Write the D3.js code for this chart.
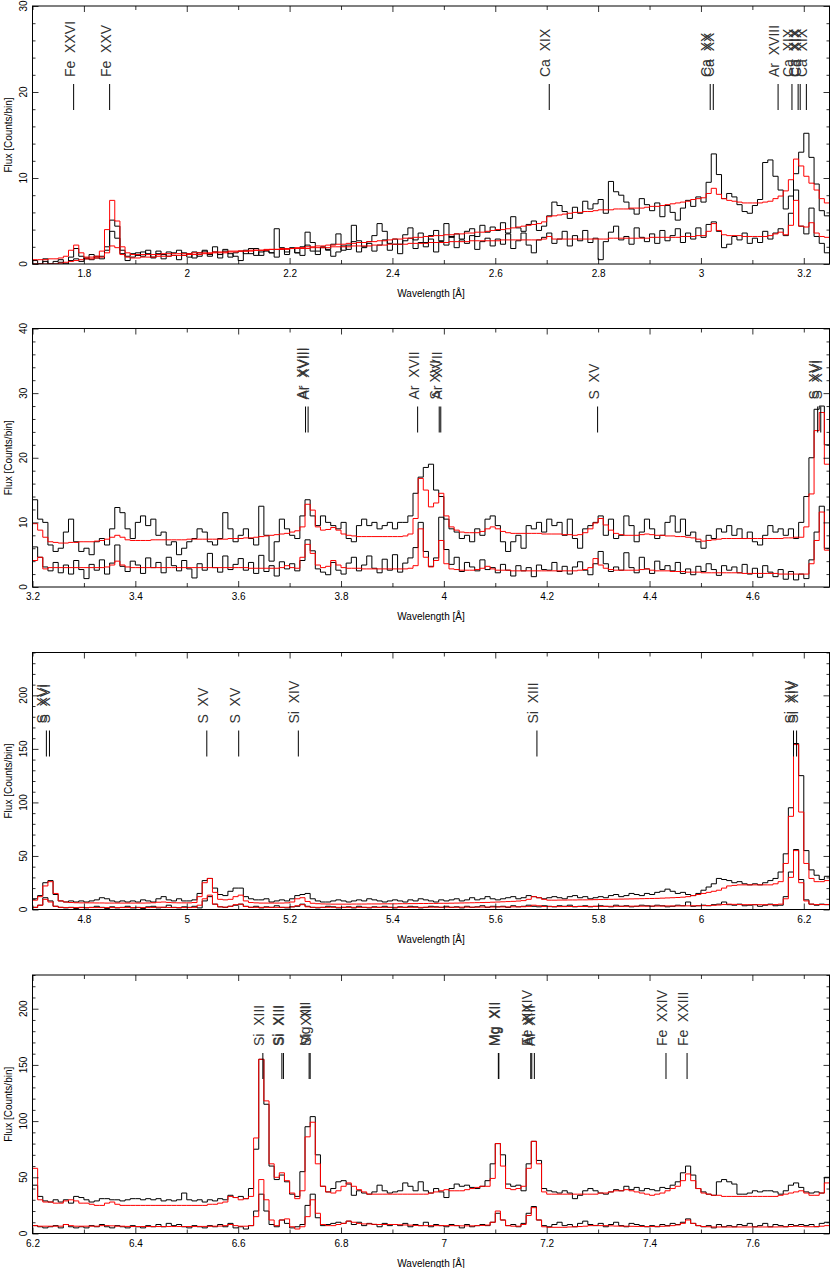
<!DOCTYPE html>
<html>
<head>
<meta charset="utf-8">
<script src="https://cdn.jsdelivr.net/npm/d3@7"></script>
<style>
    body { margin: 0; background: #fff; }
    text { font-family: "Liberation Sans", Arial, sans-serif; }
</style>
</head>
<body>
<svg id="drawingSpace" width="830" height="1268"></svg>
<script>
// spectra are binned at 0.01 A, arrays start at the left edge of each panel
var binWidth = 0.01;

// ---- panel 1 : 1.70 - 3.25 A ----
var p1Start = 1.70;
var p1Meg = [
    0,0,0.3,0,0,0.2,0,0.4,0.6,0.3,
    0.7,0.5,0.9,0.6,2.0,5.1,4.4,1.6,0.9,1.2,
    1.0,1.4,1.2,0.8,1.5,1.1,0.9,1.3,1.6,1.0,
    1.2,0.7,1.3,1.5,0.9,1.4,1.1,1.7,0.8,1.3,
    1.5,1.2,1.8,1.0,1.4,1.6,1.3,4.1,1.9,1.4,
    1.8,1.3,2.0,3.7,2.5,1.5,1.9,1.7,2.3,3.5,
    1.6,2.2,4.5,2.7,2.0,2.6,3.3,4.7,3.8,2.4,
    2.9,2.3,3.4,4.2,2.8,3.6,2.5,3.3,3.9,2.7,
    4.7,3.1,3.5,2.9,3.8,4.1,3.2,4.5,3.7,4.3,
    3.9,4.8,3.6,5.5,4.2,3.8,4.6,5.0,3.9,4.4,
    5.6,7.2,6.8,6.1,5.3,6.6,5.9,7.3,6.4,7.0,
    7.5,5.9,9.6,8.4,8.0,7.2,6.4,5.8,7.6,6.9,
    6.2,7.1,5.5,6.8,6.0,5.1,6.5,7.4,6.7,7.8,
    7.2,9.5,12.8,10.4,7.6,8.2,7.8,6.9,6.1,5.9,
    6.8,7.5,11.8,12.1,10.2,8.6,6.4,7.9,10.5,13.0,
    15.2,12.4,9.3,6.2,5.6
];
var p1Heg = [
    0.4,0,0.6,0,0.3,0.5,0,0.8,1.8,0.9,
    0.6,1.1,0.7,0.9,1.6,3.8,3.0,1.2,0.4,0.8,
    1.3,0.9,1.6,0.7,1.2,0.6,1.4,1.0,0.5,1.3,
    0.8,1.4,0.9,1.6,1.1,2.0,0.7,1.5,1.2,0.9,
    0.4,1.6,1.2,1.8,1.0,1.5,1.3,0.8,1.7,1.1,
    1.9,1.3,1.0,2.2,1.5,1.1,2.0,1.6,0.9,1.4,
    2.1,1.7,2.6,1.4,1.9,2.4,1.5,2.2,2.8,1.6,
    2.3,1.2,2.7,3.0,1.8,2.5,2.0,2.9,1.4,2.6,
    2.2,3.2,1.9,2.8,2.4,3.3,1.7,2.6,3.0,2.1,
    2.9,2.3,3.5,1.8,2.7,3.6,2.2,1.3,2.8,3.1,
    3.6,2.4,2.9,3.8,2.1,3.3,2.7,3.9,2.5,3.0,
    0.5,2.6,3.7,4.4,2.8,3.2,2.3,4.2,3.1,2.6,
    3.5,2.4,3.9,2.7,3.3,4.1,2.5,3.6,2.9,4.2,
    3.1,4.6,4.9,3.8,1.9,2.3,3.2,2.8,3.6,2.4,
    3.0,2.5,3.8,2.9,3.6,4.1,3.3,5.9,8.6,4.4,
    3.5,6.5,3.2,2.4,1.3
];
var p1MegModel = [
    0,0,0,0,0,0.1,0.2,0.3,0.4,0.5,
    0.6,0.6,0.7,0.8,1.3,2.1,1.9,1.1,0.8,0.7,
    0.7,0.8,0.8,0.8,0.9,0.9,0.9,1.0,1.0,1.0,
    1.1,1.1,1.1,1.2,1.2,1.3,1.3,1.3,1.4,1.4,
    1.5,1.5,1.5,1.6,1.6,1.7,1.7,1.7,1.8,1.8,
    1.8,1.9,1.9,2.0,2.0,2.1,2.1,2.2,2.2,2.3,
    2.3,2.4,2.4,2.5,2.5,2.6,2.6,2.7,2.7,2.8,
    2.9,2.9,3.0,3.0,3.1,3.1,3.2,3.2,3.3,3.3,
    3.4,3.4,3.5,3.5,3.6,3.6,3.7,3.7,3.8,3.9,
    4.0,4.0,4.1,4.2,4.3,4.4,4.5,4.6,4.7,4.9,
    5.5,5.6,5.7,5.8,5.9,6.0,6.0,6.1,6.1,6.2,
    6.3,6.3,6.3,6.4,6.4,6.4,6.5,6.5,6.5,6.6,
    6.7,6.7,6.8,6.9,7.0,7.1,7.2,7.3,7.5,7.6,
    7.7,8.2,8.8,8.1,7.6,7.4,7.3,7.2,7.1,7.1,
    7.1,7.1,7.2,7.3,7.6,7.9,8.5,9.8,12.2,11.4,
    10.2,9.4,8.6,7.6,7.1
];
var p1HegModel = [
    0.5,0.5,0.5,0.6,0.6,0.7,0.9,1.6,2.2,1.3,
    0.8,0.8,0.9,1.5,4.0,7.4,5.0,2.0,1.3,1.1,
    1.1,1.1,1.1,1.1,1.1,1.2,1.2,1.2,1.2,1.2,
    1.2,1.3,1.3,1.3,1.3,1.4,1.4,1.4,1.5,1.5,
    1.5,1.5,1.6,1.6,1.6,1.6,1.7,1.7,1.7,1.7,
    1.8,1.8,1.8,1.8,1.9,1.9,1.9,1.9,2.0,2.0,
    2.0,2.0,2.1,2.1,2.1,2.1,2.2,2.2,2.2,2.3,
    2.3,2.3,2.3,2.4,2.4,2.4,2.4,2.5,2.5,2.5,
    2.5,2.6,2.6,2.6,2.6,2.7,2.7,2.7,2.7,2.7,
    2.7,2.8,2.8,2.8,2.8,2.8,2.8,2.8,2.8,2.9,
    3.2,2.9,2.9,2.9,2.9,2.9,2.9,2.9,2.9,2.9,
    2.9,2.9,3.0,3.0,3.0,3.0,3.0,3.0,3.0,3.0,
    3.1,3.1,3.1,3.1,3.1,3.1,3.2,3.2,3.2,3.3,
    3.3,3.8,4.7,3.9,3.4,3.3,3.3,3.3,3.2,3.2,
    3.2,3.2,3.2,3.3,3.5,3.7,3.4,4.5,7.4,4.4,
    4.3,4.8,3.6,3.2,3.1
];
var p1Lines = [
    {ion: "Fe XXVI", wl: 1.780}, {ion: "Fe XXV", wl: 1.850},
    {ion: "Ca XIX", wl: 2.705},
    {ion: "Ca XX", wl: 3.018}, {ion: "Ca XX", wl: 3.024},
    {ion: "Ar XVIII", wl: 3.150},
    {ion: "Ca XIX", wl: 3.177}, {ion: "Ca XIX", wl: 3.189},
    {ion: "Ca XIX", wl: 3.193}, {ion: "Ca XIX", wl: 3.205}
];

// ---- panel 2 : 3.20 - 4.75 A ----
var p2Start = 3.20;
var p2Meg = [
    13.5,10.5,10,6.5,5.5,6,8.5,10.5,7,5.5,
    6,5,7,7.5,6.5,9,12.3,11.5,9,7.5,
    10,11,9.5,10.5,8,8.5,6.5,7,5,6,
    7,7.5,9,8.5,7,6.5,7.5,11.5,9,7,
    8,9,7.5,6.5,12.5,8,4,7,10.5,9,
    8,7.5,11,13.5,11,9.5,11,10,9.5,9,
    10,7.5,7,9.5,10.5,9.5,10,9,9.5,10,
    9,10,10,11,14.5,17,18.5,19,15,14,
    10.5,9,8.5,7.5,8,7,9,8,10.5,11,
    9.5,7,5.5,7,8,6,9.5,9,10,8.5,
    10.5,9.5,10,8,10.5,7.5,6,9,9.5,10,
    11,8,10.5,7.5,8,11,9.5,7,8.5,10.5,
    9,7.5,8,10,11,8.5,10.5,8,8.5,7,
    6,8,7.5,9,8.5,9.5,8,9,7.5,8.5,
    7,6.5,8,9.5,8.5,9,8,9,7.5,10,
    14,20,27.5,28,22
];
var p2Heg = [
    6.2,4.6,3.1,2.5,3.8,2.2,3.4,2.0,4.1,2.7,
    1.3,3.5,2.6,4.2,2.0,3.7,6.5,3.2,2.4,4.0,
    3.4,2.1,4.5,3.0,3.8,2.2,4.6,3.3,2.5,4.1,
    2.8,1.4,3.6,2.6,5.2,3.0,2.3,4.8,2.7,3.5,
    4.4,2.6,3.8,2.1,4.9,2.4,3.3,1.7,3.9,2.8,
    3.6,2.5,4.1,7.3,5.6,2.8,2.3,1.9,3.8,2.6,
    2.0,3.7,4.6,2.5,3.4,4.8,2.9,2.2,4.3,2.6,
    5.0,2.3,3.7,4.5,6.1,10.0,5.5,3.2,4.5,10.8,
    5.8,3.5,4.6,2.4,3.8,3.1,2.5,4.2,2.7,3.0,
    2.2,3.5,2.6,1.7,3.3,2.5,3.0,1.6,3.4,2.7,
    2.6,3.8,2.4,3.2,2.0,3.1,3.9,2.6,1.9,3.6,
    5.5,3.6,2.4,3.1,2.6,5.3,3.0,2.2,4.6,2.8,
    2.1,4.0,2.7,3.3,2.5,3.8,2.1,2.8,1.9,3.2,
    2.4,3.6,2.7,1.8,3.3,2.6,3.1,2.2,3.5,2.0,
    2.9,1.5,3.3,2.3,1.6,2.7,1.2,2.4,1.1,2.0,
    1.3,4.2,8.5,12.5,6.0
];
var p2MegModel = [
    9.8,8.8,7.7,7.0,6.9,6.8,6.8,6.9,6.9,7.0,
    7.0,7.0,7.1,7.2,7.4,7.7,8.0,7.7,7.3,7.2,
    7.2,7.2,7.2,7.3,7.3,7.3,7.3,7.3,7.3,7.3,
    7.4,7.4,7.4,7.4,7.4,7.4,7.4,7.4,7.5,7.5,
    7.5,7.6,7.6,7.7,7.8,7.9,8.0,8.1,8.2,8.3,
    8.5,8.7,9.3,12.8,11.9,9.3,8.8,8.9,9.2,8.8,
    8.2,8.0,7.9,7.8,7.8,7.8,7.8,7.8,7.8,7.8,
    7.8,7.8,7.9,8.2,10.6,16.8,15.0,12.4,13.0,14.5,
    11.0,9.3,8.8,8.5,8.4,8.4,8.4,8.6,9.0,9.3,
    9.0,8.6,8.4,8.3,8.3,8.3,8.3,8.3,8.3,8.2,
    8.2,8.2,8.2,8.1,8.1,8.0,8.1,8.4,9.0,9.9,
    10.6,9.6,8.8,8.3,8.1,8.0,8.0,8.0,8.1,8.2,
    8.1,8.0,8.0,7.9,7.9,7.8,7.8,7.7,7.6,7.4,
    7.1,7.2,7.3,7.4,7.5,7.5,7.5,7.5,7.5,7.5,
    7.5,7.5,7.5,7.5,7.5,7.5,7.6,7.6,7.7,7.7,
    9.3,14.4,24.2,27.0,19.0
];
var p2HegModel = [
    4.1,4.6,2.8,3.0,3.0,3.0,3.0,3.0,3.0,3.0,
    3.0,3.0,3.0,3.0,3.1,3.4,4.0,3.4,3.1,3.0,
    3.0,3.0,3.0,3.0,3.0,3.0,3.0,3.0,3.0,3.0,
    3.0,3.0,3.0,3.0,3.0,3.0,3.0,3.0,3.0,3.0,
    3.0,3.0,2.9,2.9,2.9,2.9,2.9,2.9,3.0,3.3,
    3.0,2.9,4.6,6.6,5.2,3.4,3.0,3.2,4.1,3.4,
    3.0,2.9,2.9,2.9,2.8,2.8,2.8,2.8,2.8,2.8,
    2.8,2.8,2.8,2.9,3.3,9.0,4.6,3.1,4.1,7.2,
    3.6,2.8,2.7,2.6,2.6,2.6,2.7,2.9,3.2,2.8,
    2.6,2.6,2.6,2.5,2.5,2.5,2.5,2.5,2.5,2.5,
    2.5,2.5,2.5,2.5,2.5,2.5,2.6,2.7,3.0,4.4,
    3.4,2.9,2.7,2.6,2.6,2.6,2.6,2.6,2.7,2.8,
    2.6,2.5,2.5,2.5,2.4,2.4,2.4,2.3,2.3,2.3,
    2.2,2.2,2.2,2.2,2.2,2.2,2.2,2.2,2.1,2.1,
    2.1,2.1,2.1,2.1,2.1,2.0,2.0,2.0,2.0,2.0,
    2.0,3.6,7.2,11.6,5.7
];
var p2Lines = [
    {ion: "Ar XVIII", wl: 3.731}, {ion: "Ar XVIII", wl: 3.736},
    {ion: "Ar XVII", wl: 3.949},
    {ion: "S XVI", wl: 3.991}, {ion: "Ar XVII", wl: 3.994},
    {ion: "S XV", wl: 4.299},
    {ion: "S XVI", wl: 4.727}, {ion: "S XVI", wl: 4.733}
];

// ---- panel 3 : 4.70 - 6.25 A ----
var p3Start = 4.70;
var p3Meg = [
    10,13,25,27,14,8,7,8,7,8,
    7,8,9,11,10,8,7,8,7,8,
    7,9,8,7,10,12,9,8,10,8,
    8,9,15,27,29,20,14,13,17,20,
    20,12,10,9,9,10,7,8,9,8,
    10,13,14,15,10,8,7,7,8,9,
    8,7,8,9,8,10,9,8,7,8,
    9,8,7,9,8,10,9,8,7,9,
    8,9,10,8,9,11,9,10,12,10,
    9,10,11,12,10,11,13,12,11,10,
    11,12,11,10,12,13,11,12,10,11,
    12,11,13,14,12,13,15,14,13,15,
    14,16,17,19,17,15,16,14,13,15,
    18,21,24,29,28,27,25,26,24,23,
    24,23,25,27,29,35,52,95,155,125,
    55,37,32,28,31
];
var p3Heg = [
    2,4,11,8,3,2,1.5,2,1,2,
    1.5,2,3,2,1,2.5,1.5,2,3,1.5,
    2,1,2.5,3,1.5,2,4,2,1.5,2.5,
    2,3,1.5,8,12,5,2.5,2,3,4,
    5,3,2,3,1.5,2.5,2,3.5,2,1.5,
    2.5,3,5,3,2,1.5,2,3,2.5,1.5,
    2,2.5,1.5,3,2,1.5,2.5,2,3,2,
    1.5,2.5,2,3,2.5,1.5,2,3,2.5,2,
    3,2,2.5,1.5,3,2,2.5,3.5,2,3,
    2.5,3,2,3.5,2.5,3,4,3,2.5,3.5,
    3,2.5,3.5,3,4,2.5,3,3.5,2.5,3,
    3.5,3,2.5,4,3,3.5,2.5,3,4,3.5,
    3,4,3.5,2.5,3,4,3.5,7,3,3.5,
    4,3.5,4.5,5,7,4.5,4,5,3.5,4,
    4.5,3,4,5,3.5,4,12,35,56,28,
    9,5,4,5,4.5
];
var p3MegModel = [
    8.7,12,22,26,15,8,7,6.5,6.3,6.2,
    6.2,6.2,6.1,6.1,6.0,6.0,6.0,6.0,6.0,6.0,
    6.0,6.0,6.1,6.3,6.8,7.0,6.6,6.3,6.2,6.2,
    6.2,6.5,12,25,29,16,9.5,9.0,9.5,12,
    13.4,8,6.5,6.2,6.0,6.0,6.0,6.0,6.0,6.2,
    7,10,11,7.5,5.8,5.4,5.2,5.1,5.0,5.0,
    5.0,5.0,5.1,5.1,5.1,5.2,5.2,5.2,5.3,5.3,
    5.3,5.4,5.4,5.5,5.5,5.6,5.6,5.7,5.7,5.8,
    5.8,5.9,6.0,6.1,6.2,6.3,6.4,6.5,6.6,6.8,
    7.0,7.2,7.4,7.6,7.9,8.3,9.5,12,11,9.5,
    8.7,8.7,8.8,8.8,8.9,8.9,9.0,9.0,9.1,9.2,
    9.3,9.4,9.5,9.6,9.7,9.8,9.9,10,10.1,10.2,
    10.3,10.4,10.6,10.8,11,11.2,11.5,12,13,14,
    15,16,17,18,20,22,22.5,23,23,23,
    23,23,23,23,24,26,43,87,154,91,
    43,29,26,26,27
];
var p3HegModel = [
    2,4,9.5,7,3,2,1.8,1.8,1.8,1.8,
    1.8,1.8,1.8,1.8,1.8,1.8,1.8,1.8,1.8,1.8,
    1.8,1.8,1.8,1.9,2.2,2.1,1.9,1.8,1.8,1.8,
    1.8,2,4,10,13.4,5,2.5,2.2,3,4.5,
    5,2.8,2.1,2,2,2,2,2,2,2.1,
    2.5,3.5,4.5,2.5,2,2,2,2,2,2,
    2,2,2,2,2,2,2,2,2,2,
    2,2,2,2,2,2,2.1,2.1,2.1,2.1,
    2.1,2.1,2.1,2.2,2.2,2.2,2.2,2.3,2.3,2.3,
    2.4,2.4,2.4,2.5,2.5,2.6,2.9,4,3.5,2.8,
    2.7,2.7,2.7,2.7,2.8,2.8,2.8,2.8,2.9,2.9,
    2.9,2.9,3,3,3,3,3.1,3.1,3.1,3.1,
    3.2,3.2,3.2,3.3,3.3,3.3,3.4,3.4,3.5,3.5,
    3.6,3.7,3.9,4.2,4.6,5,4.8,4.6,4.5,4.5,
    4.5,4.5,4.5,4.5,4.6,5,10,30,55,25,
    8,5,4.6,4.6,4.7
];
var p3Lines = [
    {ion: "S XVI", wl: 4.727}, {ion: "S XVI", wl: 4.733},
    {ion: "S XV", wl: 5.039}, {ion: "S XV", wl: 5.101},
    {ion: "Si XIV", wl: 5.217},
    {ion: "Si XIII", wl: 5.681},
    {ion: "Si XIV", wl: 6.180}, {ion: "Si XIV", wl: 6.186}
];

// ---- panel 4 : 6.20 - 7.75 A ----
var p4Start = 6.20;
var p4Meg = [
    43,33,29,28,30,28,30,27,33,32,
    30,28,29,31,31,30,30,29,30,31,
    31,30,31,30,31,29,30,29,30,36,
    30,29,30,28,30,29,31,30,34,32,
    33,31,40,75,155,115,60,48,52,46,
    35,33,55,95,104,70,42,37,40,46,
    47,44,34,38,36,35,37,43,38,36,
    37,38,45,42,38,46,38,36,40,37,
    32,40,44,42,43,41,40,42,47,62,
    80,70,44,42,43,38,62,82,65,40,
    38,37,36,38,36,31,34,38,40,38,
    36,35,37,39,38,42,39,41,38,40,
    39,38,41,40,43,46,54,60,52,40,
    37,35,34,46,48,46,44,35,35,36,
    38,37,38,38,37,35,38,43,45,41,
    37,36,37,36,50
];
var p4Heg = [
    7,6,5,6,7,5,8,6,5,6,
    5,7,6,8,6,5,7,6,5,7,
    6,5,7,6,8,6,9,7,8,6,
    5,7,6,5,7,6,8,6,9,5,
    6,4,7,20,35,20,8,6,12,9,
    5,6,8,25,35,14,7,8,9,10,
    9,11,8,10,7,9,8,6,9,7,
    8,7,9,6,8,7,10,6,8,7,
    6,8,7,5,8,6,7,8,7,10,
    18,12,7,8,6,9,18,24,12,7,
    6,8,10,7,8,6,9,11,8,7,
    9,6,8,10,7,6,9,8,7,6,
    7,6,8,7,9,8,10,13,9,7,
    6,7,5,8,6,7,6,8,7,9,
    6,7,9,6,8,7,6,8,7,8,
    7,8,6,9,10
];
var p4MegModel = [
    58,30,28,28,27,27,29,30,29,27,
    27,26,25,25,27,28,26,25,25,25,
    25,25,25,25,25,25,25,25,25,25,
    25,25,25,25,26,26,27,28,33,32,
    30,31,33,85,155,118,62,50,54,47,
    36,31,38,86,99,62,42,37,36,38,
    42,45,42,39,37,35,35,35,35,35,
    35,35,35,35,35,35,35,36,37,38,
    39,38,38,38,39,40,41,42,42,49,
    80,60,40,39,40,42,58,82,62,37,
    35,35,35,35,35,35,35,35,35,35,
    36,36,37,38,38,39,38,37,36,35,
    34,35,36,38,40,42,47,53,47,40,
    36,35,34,34,33,33,33,33,33,33,
    33,33,33,33,33,34,35,36,37,38,
    36,34,34,36,45
];
var p4HegModel = [
    7,6.5,6.5,6.5,6.5,6.5,8,7,6.5,6.5,
    6.5,6.5,6.5,7,7,6.8,6.5,6.5,6.3,6.2,
    6.2,6.2,6.2,6.2,6.2,6.2,6.2,6.2,6.2,6.2,
    6.2,6.2,6.3,6.3,6.4,6.5,6.6,7,8,7,
    6.5,6.5,7,15,48,30,12,7,12,13,
    6,4,6,15,30,18,8,7,7,8,
    9,11,10,9,8.5,8.5,8.2,8,8,8,
    8,7.8,7.6,7.4,7.2,7,7,7,7,7,
    7,7,7,6.8,6.8,6.8,7,7.2,7.5,10,
    20,12,7,6.5,6.5,8,16,23,12,6,
    5.5,5.5,5.5,5.5,5.8,6,6.2,6.5,7,7.2,
    7,7,6.8,6.6,6.5,6.5,6.4,6.3,6.2,6.2,
    6.2,6.3,6.4,6.6,7,7.6,9,12,9,7,
    6.2,6,5.8,5.8,5.8,5.8,5.8,5.8,5.8,5.8,
    5.8,5.8,5.8,5.8,5.8,5.9,6,6.2,6.5,6.3,
    6,6,6.2,6.5,7
];
var p4Lines = [
    {ion: "Si XIII", wl: 6.648},
    {ion: "Si XIII", wl: 6.685}, {ion: "Si XIII", wl: 6.688},
    {ion: "Mg XII", wl: 6.738}, {ion: "Si XIII", wl: 6.740},
    {ion: "Mg XII", wl: 7.106}, {ion: "Mg XII", wl: 7.107},
    {ion: "Fe XXIV", wl: 7.169}, {ion: "Al XIII", wl: 7.171}, {ion: "Al XIII", wl: 7.176},
    {ion: "Fe XXIV", wl: 7.432}, {ion: "Fe XXIII", wl: 7.473}
];

//set up drawingspace
var svg = d3.select("#drawingSpace"),
    plotLeft = 32.5,
    plotRight = 829.5;

var panels = [
    {start: p1Start, xDomain: [1.70, 3.25], yMax: 30, yMajor: 10, yMinor: 2, top: 6, bottom: 264,
        data: [p1Meg, p1Heg], models: [p1MegModel, p1HegModel], lines: p1Lines},
    {start: p2Start, xDomain: [3.20, 4.75], yMax: 40, yMajor: 10, yMinor: 2, top: 328.5, bottom: 587,
        data: [p2Meg, p2Heg], models: [p2MegModel, p2HegModel], lines: p2Lines},
    {start: p3Start, xDomain: [4.70, 6.25], yMax: 240, yMajor: 50, yMinor: 10, top: 652.5, bottom: 909.5,
        data: [p3Meg, p3Heg], models: [p3MegModel, p3HegModel], lines: p3Lines},
    {start: p4Start, xDomain: [6.20, 7.75], yMax: 230, yMajor: 50, yMinor: 10, top: 975, bottom: 1233.5,
        data: [p4Meg, p4Heg], models: [p4MegModel, p4HegModel], lines: p4Lines}
];

panels.forEach(drawPanel);

function drawPanel(p, k) {
    var x = d3.scaleLinear().domain(p.xDomain).range([plotLeft, plotRight]),
        y = d3.scaleLinear().domain([0, p.yMax]).range([p.bottom, p.top]);

    var g = svg.append("g").attr("class", "panel");

    svg.append("clipPath").attr("id", "clip" + k)
        .append("rect")
        .attr("x", plotLeft).attr("y", p.top)
        .attr("width", plotRight - plotLeft).attr("height", p.bottom - p.top);

    //turn the binned counts into a histogram outline
    function toSteps(values) {
        var pts = values.map(function (v, i) {
            return [p.start + i * binWidth, v];
        });
        pts.push([p.start + values.length * binWidth, values[values.length - 1]]);
        return pts;
    }

    var stepLine = d3.line()
        .x(function (d) { return x(d[0]); })
        .y(function (d) { return y(d[1]); })
        .curve(d3.curveStepAfter);

    var spectra = g.append("g").attr("clip-path", "url(#clip" + k + ")");

    spectra.selectAll(".data")
        .data(p.data)
        .enter().append("path")
        .attr("class", "data")
        .attr("d", function (d) { return stepLine(toSteps(d)); })
        .attr("fill", "none")
        .attr("stroke", "#000")
        .attr("stroke-width", 1);

    spectra.selectAll(".model")
        .data(p.models)
        .enter().append("path")
        .attr("class", "model")
        .attr("d", function (d) { return stepLine(toSteps(d)); })
        .attr("fill", "none")
        .attr("stroke", "#ff0000")
        .attr("stroke-width", 1);

    //ticks: majors every 0.2 A, minors every 0.1 A
    var xMajor = d3.range(Math.ceil(p.xDomain[0] * 5 - 1e-6), Math.floor(p.xDomain[1] * 5 + 1e-6) + 1)
            .map(function (i) { return i / 5; }),
        xMinor = d3.range(Math.ceil(p.xDomain[0] * 10 - 1e-6), Math.floor(p.xDomain[1] * 10 + 1e-6) + 1)
            .filter(function (i) { return i % 2 !== 0; })
            .map(function (i) { return i / 10; }),
        yMajorTicks = d3.range(0, p.yMax + 1e-6, p.yMajor),
        yMinorTicks = d3.range(0, p.yMax + 1e-6, p.yMinor).filter(function (v) {
            return Math.abs(v / p.yMajor - Math.round(v / p.yMajor)) > 1e-6;
        });

    var axes = g.append("g").attr("class", "axes");

    axes.append("g")
        .attr("transform", "translate(0," + p.bottom + ")")
        .call(d3.axisBottom(x).tickValues(xMajor).tickSize(-6).tickPadding(6)
            .tickFormat(function (d) { return String(+d.toFixed(1)); }));
    axes.append("g")
        .attr("transform", "translate(0," + p.bottom + ")")
        .call(d3.axisBottom(x).tickValues(xMinor).tickSize(-4).tickFormat(""));
    axes.append("g")
        .attr("transform", "translate(0," + p.top + ")")
        .call(d3.axisTop(x).tickValues(xMajor).tickSize(-6).tickFormat(""));
    axes.append("g")
        .attr("transform", "translate(0," + p.top + ")")
        .call(d3.axisTop(x).tickValues(xMinor).tickSize(-4).tickFormat(""));
    axes.append("g")
        .attr("transform", "translate(" + plotLeft + ",0)")
        .call(d3.axisLeft(y).tickValues(yMajorTicks).tickSize(-6).tickFormat(""));
    axes.append("g")
        .attr("transform", "translate(" + plotLeft + ",0)")
        .call(d3.axisLeft(y).tickValues(yMinorTicks).tickSize(-3).tickFormat(""));
    axes.append("g")
        .attr("transform", "translate(" + plotRight + ",0)")
        .call(d3.axisRight(y).tickValues(yMajorTicks).tickSize(-6).tickFormat(""));
    axes.append("g")
        .attr("transform", "translate(" + plotRight + ",0)")
        .call(d3.axisRight(y).tickValues(yMinorTicks).tickSize(-3).tickFormat(""));

    axes.selectAll(".domain").remove();
    axes.selectAll(".tick line").attr("stroke", "#000").attr("stroke-width", 0.8);
    axes.selectAll(".tick text")
        .attr("font-size", 10)
        .attr("font-family", "Liberation Sans, Arial, sans-serif")
        .attr("fill", "#000");

    //y tick labels are written sideways
    g.selectAll(".ylab")
        .data(yMajorTicks)
        .enter().append("text")
        .attr("class", "ylab")
        .attr("transform", function (d) { return "translate(27," + y(d) + ") rotate(-90)"; })
        .attr("text-anchor", "middle")
        .attr("font-size", 10)
        .text(function (d) { return d; });

    //frame
    g.append("rect")
        .attr("x", plotLeft).attr("y", p.top)
        .attr("width", plotRight - plotLeft).attr("height", p.bottom - p.top)
        .attr("fill", "none")
        .attr("stroke", "#000")
        .attr("stroke-width", 1);

    //axis titles
    g.append("text")
        .attr("x", (plotLeft + plotRight) / 2)
        .attr("y", p.bottom + 33)
        .attr("text-anchor", "middle")
        .attr("font-size", 10)
        .text("Wavelength [\u00c5]");

    g.append("text")
        .attr("transform", "translate(11.5," + (p.top + p.bottom) / 2 + ") rotate(-90)")
        .attr("text-anchor", "middle")
        .attr("font-size", 10)
        .text("Flux [Counts/bin]");

    //line identifications
    var ids = g.append("g").attr("class", "lineIds");

    ids.selectAll("line")
        .data(p.lines)
        .enter().append("line")
        .attr("x1", function (d) { return x(d.wl); })
        .attr("x2", function (d) { return x(d.wl); })
        .attr("y1", p.top + 78)
        .attr("y2", p.top + 104)
        .attr("stroke", "#000")
        .attr("stroke-width", 1);

    ids.selectAll("text")
        .data(p.lines)
        .enter().append("text")
        .attr("transform", function (d) {
            return "translate(" + (x(d.wl) + 1) + "," + (p.top + 71) + ") rotate(-90)";
        })
        .attr("font-size", 14)
        .attr("fill", "#333")
        .text(function (d) { return d.ion.replace(" ", "\u00a0\u00a0"); });
}
</script>
</body>
</html>
